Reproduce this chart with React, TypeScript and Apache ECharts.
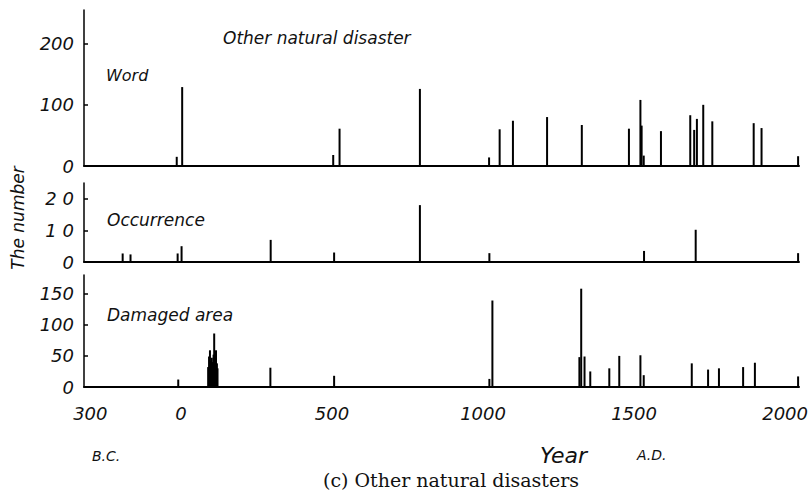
import React, { useEffect, useRef } from "react";
import * as echarts from "echarts";

// ---- data ----
const wordYears = [-14, 4, 504, 525, 791, 1020, 1055, 1099, 1212, 1327, 1483, 1521, 1525, 1532, 1589, 1686, 1699, 1708, 1729, 1759, 1896, 1922, 2043];
const wordValues = [15, 129, 18, 61, 126, 14, 60, 74, 80, 67, 61, 108, 66, 17, 57, 83, 59, 77, 100, 73, 70, 62, 16];

const occYears = [-193, -167, -11, 2, 297, 507, 791, 1021, 1533, 1704, 2043];
const occValues = [2.7, 2.4, 2.7, 5, 7, 3, 18, 2.8, 3.5, 10.2, 2.8];

const damYears = [-9, 90, 93, 96, 99, 102, 105, 108, 110, 113, 116, 119, 121, 296, 507, 1021, 1031, 1319, 1325, 1336, 1355, 1418, 1451, 1521, 1532, 1691, 1745, 1781, 1861, 1900, 2043];
const damValues = [12, 32, 49, 59, 42, 47, 40, 52, 86, 45, 59, 38, 30, 31, 18, 13, 139, 48, 158, 49, 25, 30, 50, 51, 19, 38, 28, 30, 32, 39, 17];

const xTicks = [-300, 0, 500, 1000, 1500, 2000];
const wordTicks = [0, 100, 200];
const occTicks = [0, 10, 20];
const damTicks = [0, 50, 100, 150];

const X_MIN = -321;
const X_MAX = 2046;

const FONT = "DejaVu Sans";

function pairs(xs: number[], ys: number[]) {
  return xs.map((x, i) => [x, ys[i]]);
}

export default function App() {
  const ref = useRef<HTMLDivElement>(null);

  useEffect(() => {
    if (!ref.current) return;
    const chart = echarts.init(ref.current, undefined, { renderer: "svg" });

    const xAxisBase = (gridIndex: number, showLabels: boolean) => ({
      type: "value",
      gridIndex,
      min: X_MIN,
      max: X_MAX,
      axisLine: { show: true, onZero: false, lineStyle: { color: "#000", width: 2 } },
      axisTick: { show: false },
      splitLine: { show: false },
      axisLabel: {
        show: showLabels,
        customValues: xTicks,
        formatter: (v: number) => String(Math.abs(v)),
        fontFamily: FONT,
        fontStyle: "italic",
        fontSize: 18,
        color: "#111",
        margin: 17,
      },
    });

    const yAxisBase = (gridIndex: number, max: number, ticks: number[], spaced: boolean) => ({
      type: "value",
      gridIndex,
      min: 0,
      max,
      axisLine: { show: true, onZero: false, lineStyle: { color: "#000", width: 1.5 } },
      axisTick: { show: true, inside: true, length: 4, customValues: ticks, lineStyle: { color: "#000", width: 1.5 } },
      splitLine: { show: false },
      axisLabel: {
        customValues: ticks,
        formatter: (v: number) => (spaced && v !== 0 ? String(v).split("").join(" ") : String(v)),
        fontFamily: FONT,
        fontStyle: "italic",
        fontSize: 18,
        color: "#111",
        margin: 10,
      },
    });

    const barSeries = (idx: number, data: number[][]) => ({
      type: "bar",
      xAxisIndex: idx,
      yAxisIndex: idx,
      data,
      barWidth: 2,
      itemStyle: { color: "#000" },
      silent: true,
    });

    const label = (text: string, x: number, y: number, size: number) => ({
      type: "text",
      x,
      y,
      style: {
        text,
        fontFamily: FONT,
        fontStyle: "italic",
        fontSize: size,
        fill: "#111",
        verticalAlign: "middle",
      },
    });

    chart.setOption({
      animation: false,
      backgroundColor: "#fff",
      grid: [
        { left: 84, width: 715, top: 10, height: 156 },
        { left: 84, width: 715, top: 183, height: 79 },
        { left: 84, width: 715, top: 275, height: 112 },
      ],
      xAxis: [xAxisBase(0, false), xAxisBase(1, false), xAxisBase(2, true)],
      yAxis: [
        yAxisBase(0, 255, wordTicks, false),
        yAxisBase(1, 25, occTicks, true),
        yAxisBase(2, 180, damTicks, false),
      ],
      series: [
        barSeries(0, pairs(wordYears, wordValues)),
        barSeries(1, pairs(occYears, occValues)),
        barSeries(2, pairs(damYears, damValues)),
      ],
      graphic: [
        label("Other natural disaster", 223, 38, 17),
        label("Word", 106, 75, 16),
        label("Occurrence", 107, 220, 17),
        label("Damaged area", 107, 315, 17),
        {
          type: "text",
          x: 18,
          y: 218,
          rotation: Math.PI / 2,
          style: {
            text: "The number",
            fontFamily: FONT,
            fontStyle: "italic",
            fontSize: 17,
            fill: "#111",
            align: "center",
            verticalAlign: "middle",
          },
        },
        label("B.C.", 92, 456, 14),
        label("Year", 540, 455, 22),
        label("A.D.", 637, 455, 14),
        {
          type: "text",
          x: 451,
          y: 480,
          style: {
            text: "(c) Other natural disasters",
            fontFamily: "DejaVu Serif",
            fontSize: 19,
            fill: "#111",
            align: "center",
            verticalAlign: "middle",
          },
        },
      ],
    });

    return () => chart.dispose();
  }, []);

  return (
    <div
      ref={ref}
      style={{ position: "fixed", left: 0, top: 0, width: 812, height: 495, background: "#fff" }}
    />
  );
}
